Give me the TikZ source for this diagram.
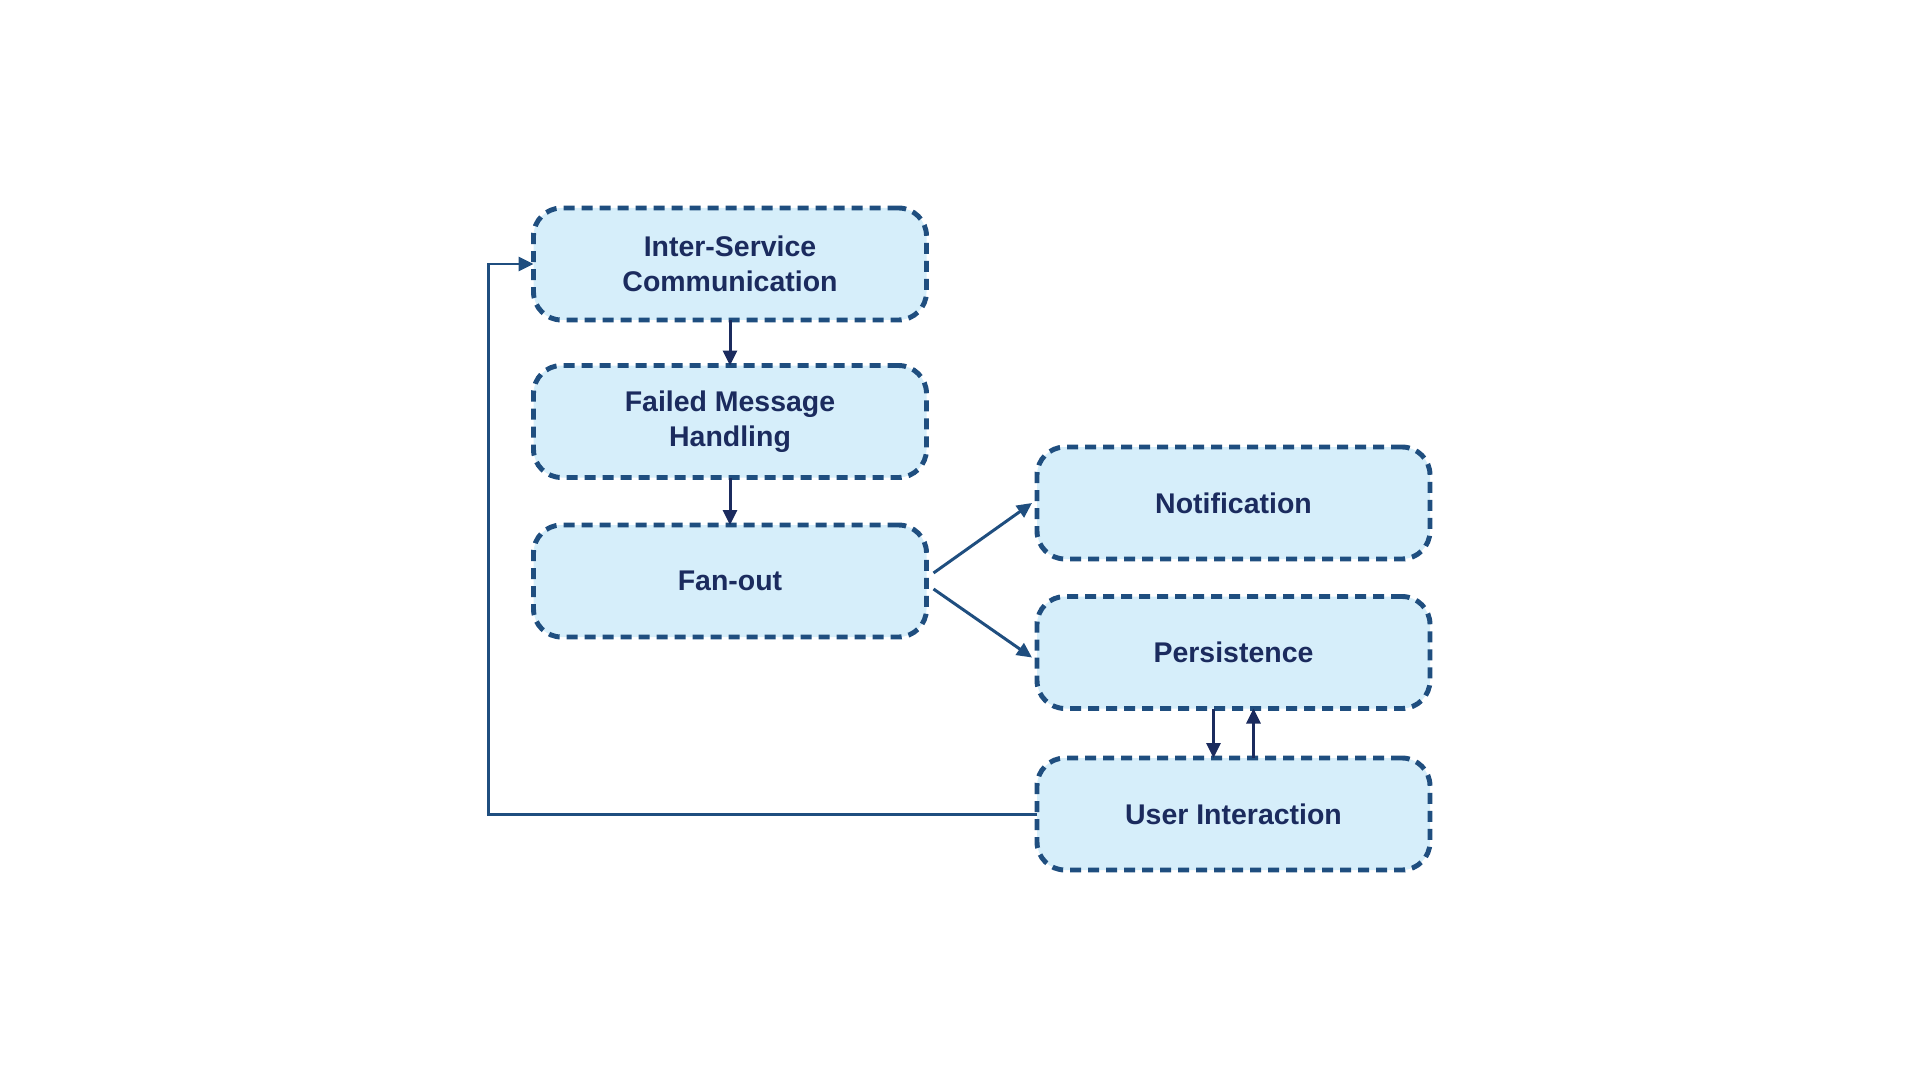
\documentclass[tikz,border=0pt]{standalone}
\usepackage{fontspec}
\setmainfont{Liberation Sans}
\definecolor{boxfill}{HTML}{D6EEFA}
\definecolor{boxline}{HTML}{1F4E7F}
\definecolor{lettercolor}{HTML}{1B2B5E}
\usetikzlibrary{arrows.meta,positioning}
\tikzset{
	stage/.style={
		rectangle,
		rounded corners=0.56cm,
		line width=2.8pt,
		dash pattern=on 0.22cm off 0.14cm,
		draw=boxline,
		fill=boxfill,
		text=lettercolor,
		font=\fontsize{16.2}{19.9}\selectfont\bfseries,
		minimum width=7.86cm,
		minimum height=2.24cm,
		outer sep=0pt,
		align=center
	},
	link/.style={
		draw=boxline,
		line width=1.7pt,
		->,
		>={Triangle[length=0.3cm,width=0.28cm]}
	},
	shortlink/.style={
		link,
		draw=lettercolor
	},
}

\begin{document}
\begin{tikzpicture}
	\useasboundingbox (0,0) rectangle (38.4,-21.6);
	\node [stage] (inter) at (14.6,-5.28) {Inter-Service\\Communication};
	\node [stage] (failed) [below=0.91cm of inter] {Failed Message\\Handling};
	\node [stage] (fanout) [below=0.95cm of failed] {Fan-out};
	\node [stage] (notif) at (24.67,-10.06) {Notification};
	\node [stage] (persist) [below=0.75cm of notif] {Persistence};
	\node [stage] (user) [below=0.99cm of persist] {User Interaction};

	\draw [shortlink] (inter) -- (failed);
	\draw [shortlink] (failed) -- (fanout);
	\draw [link] ([shift={(0.14cm,0.16cm)}]fanout.east) -- ([xshift=-0.1cm]notif.west);
	\draw [link] ([shift={(0.14cm,-0.16cm)}]fanout.east) -- ([shift={(-0.1cm,-0.1cm)}]persist.west);
	\draw [shortlink] ([xshift=-0.4cm]persist.south) -- ([xshift=-0.4cm]user.north);
	\draw [shortlink] ([xshift=0.4cm]user.north) -- ([xshift=0.4cm]persist.south);
	% loop back to the top
	\draw [link] (user.west) -| ([xshift=-0.9cm]inter.west) -- (inter.west);
\end{tikzpicture}
\end{document}
